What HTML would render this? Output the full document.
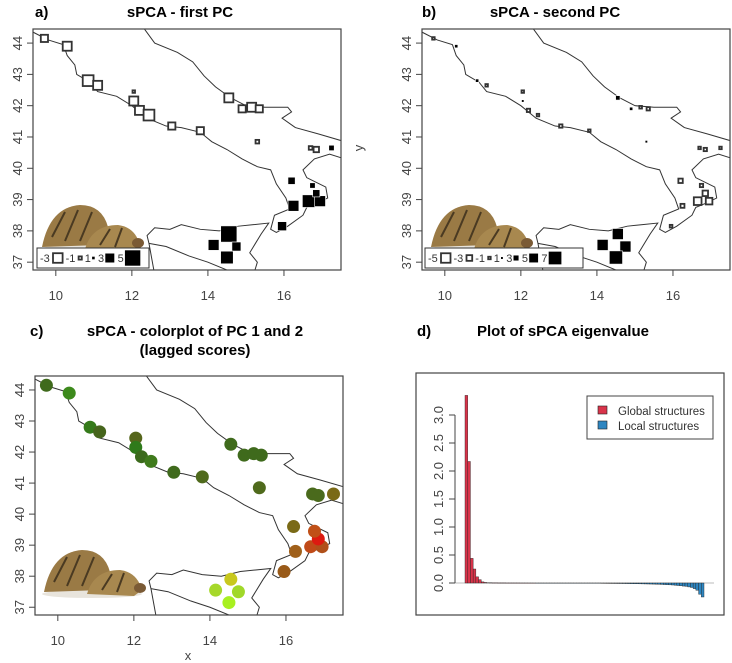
<!DOCTYPE html>
<html><head><meta charset="utf-8"><style>
body{margin:0;background:#fff;}
svg{display:block;font-family:"Liberation Sans",Arial,sans-serif;}
.t{font-weight:bold;font-size:15px;}
.tk{font-size:13px;fill:#444;}
</style></head><body>
<svg id="fig" width="732" height="663" viewBox="0 0 732 663" xmlns="http://www.w3.org/2000/svg">
<defs>
<clipPath id="ca"><rect x="33" y="29" width="308" height="241"/></clipPath>
<clipPath id="cb"><rect x="422" y="29" width="308" height="241"/></clipPath>
<clipPath id="cc"><rect x="35" y="376" width="308" height="239"/></clipPath>
</defs>
</svg>
<script>
// sample locations
const lon=[9.7,10.3,10.85,11.1,12.05,12.05,12.2,12.45,13.05,13.8,14.55,14.9,15.15,15.35,15.3,16.7,16.85,17.25,16.2,16.25,15.95,16.65,16.95,16.85,16.75,14.55,14.15,14.75,14.5];
const lat=[44.15,43.9,42.8,42.65,42.45,42.15,41.85,41.7,41.35,41.2,42.25,41.9,41.95,41.9,40.85,40.65,40.6,40.65,39.6,38.8,38.15,38.95,38.95,39.2,39.45,37.9,37.55,37.5,37.15];
const pc1=[-2,-2.5,-3,-2.5,-0.5,-2.5,-2.5,-3,-2,-2,-2.5,-2,-2.5,-2,-1,-1,-1.5,1.5,2,3,2.5,3.5,3,2,1.5,4.5,3,2.5,3.5];
const pc2=[-0.8,1.5,1.5,-0.8,-0.5,1,-1.5,-0.5,-1.5,-1,2,1.5,-1.2,-1.5,0.5,-0.8,-1.5,-0.6,-2,-1.8,-1.2,-3.5,-3,-2.5,-1.5,5,5,5,6];
const lagCol=['#3f6a1c','#3d8a1c','#357a1a','#46651c','#56661c','#2f7a1a','#3b6a1c','#3f7a1c','#3f6a1c','#4f6a1c','#3f6a1c','#3f6a1c','#3f6a1c','#3f6a1c','#4f6a1c','#4a6a1c','#4a6a1c','#7a6a16','#7a6a16','#a0601a','#995a18','#c04a18','#b0501a','#dd1a10','#c05018','#c8c81e','#a6d82a','#a0d82a','#a8f020'];
const legA=[-3,-1,1,3,5];
const legB=[-5,-3,-1,1,3,5,7];
// eigenvalues
const eig=[3.35,2.17,0.44,0.25,0.11,0.06,0.02,0.01,0.005,0.004,0.003,0.003,0.002,0.002,0.002,0.001,0.001,0.001,0.001,0.001,0.0005,0.0005,0.0005,0.0003,0.0002,0.0001,-0.0001,-0.0002,-0.0003,-0.0005,-0.0006,-0.0008,-0.001,-0.001,-0.0012,-0.0014,-0.0016,-0.0018,-0.002,-0.0022,-0.0024,-0.0026,-0.0028,-0.003,-0.0033,-0.0036,-0.004,-0.0043,-0.0046,-0.005,-0.0055,-0.006,-0.0065,-0.007,-0.0075,-0.008,-0.0085,-0.009,-0.0095,-0.01,-0.011,-0.012,-0.013,-0.014,-0.015,-0.016,-0.017,-0.018,-0.019,-0.02,-0.022,-0.024,-0.026,-0.028,-0.03,-0.033,-0.036,-0.04,-0.045,-0.05,-0.055,-0.06,-0.07,-0.08,-0.1,-0.13,-0.2,-0.25];
const yTicksD=[0,0.5,1,1.5,2,2.5,3];
const xTicks=[10,12,14,16];
const yTicks=[37,38,39,40,41,42,43,44];

const coastW=[[9.4,44.35],[9.8,44.1],[10.2,43.95],[10.3,43.6],[10.5,43.3],[10.55,43.0],[10.9,42.75],[11.1,42.45],[11.6,42.3],[12.0,42.0],[12.4,41.6],[12.9,41.35],[13.3,41.3],[13.8,41.15],[14.1,40.85],[14.5,40.6],[14.9,40.3],[15.3,40.05],[15.65,39.95],[15.8,39.5],[16.05,39.05],[16.15,38.7],[15.75,38.5],[15.65,38.05],[15.8,37.95],[16.1,38.15],[16.5,38.5],[16.6,38.75],[16.9,38.9],[17.15,39.05],[17.1,39.4],[16.6,39.7],[16.5,39.95],[16.8,40.3],[17.2,40.45],[17.6,40.3]];
const coastE=[[12.3,44.5],[12.6,44.0],[13.2,43.7],[13.6,43.4],[13.9,42.95],[14.2,42.6],[14.6,42.25],[15.0,42.0],[15.5,41.95],[16.1,41.95],[16.2,41.8],[15.95,41.6],[16.3,41.3],[16.9,41.1],[17.6,40.85]];
const coastS=[[12.6,36.6],[12.45,37.6],[12.4,37.85],[12.6,38.1],[13.0,38.05],[13.3,38.2],[13.8,38.05],[14.3,38.0],[14.8,38.15],[15.2,38.2],[15.6,38.25],[15.4,37.9],[15.2,37.5],[15.1,37.3],[15.3,37.0],[15.2,36.6]];
const coastS2=[[12.45,37.6],[12.9,37.5],[13.5,37.2],[14.0,37.0],[14.6,36.7]];

const NS='http://www.w3.org/2000/svg';
const svg=document.getElementById('fig');
function mk(tag,attrs,parent){const e=document.createElementNS(NS,tag);for(const k in attrs)e.setAttribute(k,attrs[k]);(parent||svg).appendChild(e);return e;}
function txt(s,x,y,cls,extra,parent){const e=mk('text',Object.assign({x:x,y:y,class:cls},extra||{}),parent);e.textContent=s;return e;}

function panel(P){
  const sx=v=>P.x0+(v-9.4)/(17.5-9.4)*P.w;
  const sy=v=>P.y0+(44.45-v)/(44.45-36.75)*P.h;
  const g=mk('g',{});
  
  
  const cg=mk('g',{'clip-path':'url(#'+P.clip+')'},g);
  [coastW,coastE,coastS,coastS2].forEach(c=>{
    const p=mk('polyline',{points:c.map(q=>sx(q[0])+','+sy(q[1])).join(' '),fill:'none',stroke:'#333','stroke-width':1},cg);
    
    
  });
  // tortoise photo
  const tx=P.x0+7,ty=P.y0+P.h-73;
  const tg=mk('g',{},cg);
  
  
  mk('ellipse',{cx:tx+50,cy:ty+52,rx:50,ry:4,fill:'#e8e4dc'},tg);
  mk('path',{d:`M${tx+2},${ty+50} Q${tx+10},${ty+10} ${tx+40},${ty+8} Q${tx+62},${ty+8} ${tx+68},${ty+30} L${tx+60},${ty+48} Z`,fill:'#9a7a45'},tg);
  mk('path',{d:`M${tx+45},${ty+52} Q${tx+52},${ty+28} ${tx+78},${ty+28} Q${tx+95},${ty+30} ${tx+100},${ty+48} L${tx+92},${ty+54} Z`,fill:'#a8884f'},tg);
  mk('path',{d:`M${tx+12},${ty+40} L${tx+25},${ty+15} M${tx+25},${ty+44} L${tx+38},${ty+13} M${tx+40},${ty+44} L${tx+52},${ty+15} M${tx+60},${ty+48} L${tx+70},${ty+32} M${tx+75},${ty+50} L${tx+82},${ty+31}`,stroke:'#4a3a22','stroke-width':2},tg);
  mk('ellipse',{cx:tx+98,cy:ty+46,rx:6,ry:5,fill:'#7a5a35'},tg);
  mk('rect',{x:P.x0,y:P.y0,width:P.w,height:P.h,fill:'none',stroke:'#444','stroke-width':1.2},g);
  P.marks(sx,sy,cg);
  xTicks.forEach(t=>{mk('line',{x1:sx(t),x2:sx(t),y1:P.y0+P.h,y2:P.y0+P.h+6,stroke:'#444'},g);txt(t,sx(t),P.y0+P.h+30,'tk',{'text-anchor':'middle'},g);});
  yTicks.forEach(t=>{mk('line',{x1:P.x0-6,x2:P.x0,y1:sy(t),y2:sy(t),stroke:'#444'},g);txt(t,P.x0-11,sy(t),'tk',{'text-anchor':'middle',transform:`rotate(-90 ${P.x0-11} ${sy(t)})`},g);});
  return g;
}
function sq(x,y,v,k,parent){
  const s=Math.max(2.5,Math.abs(v)*k);
  const r=mk('rect',{x:x-s/2,y:y-s/2,width:s,height:s,fill:v>0?'#000':'#fff',stroke:v>0?'#fff':'#333','stroke-width':v>0?0.6:1.8},parent);
  
  
  return r;
}
function legendSq(x0,y0,vals,k,parent,w){
  const lg=mk('g',{},parent);
  
  
  mk('rect',{x:x0,y:y0,width:w,height:20,fill:'#fff',stroke:'#333'},lg);
  let x=x0+3;
  vals.forEach(v=>{txt(v,x,y0+14,'',{'font-size':'11px',fill:'#333'},lg);x+=(String(v).length*6)+1;const s=Math.max(2.5,Math.abs(v)*k);sq(x+s/2,y0+10,v,k,lg);x+=s+3;});
}

panel({name:'panel-a-map',x0:33,y0:29,w:308,h:241,clip:'ca',marks:(sx,sy,g)=>{
  lon.forEach((l,i)=>sq(sx(l),sy(lat[i]),pc1[i],3.6,g));
  legendSq(37,248,legA,3.2,g,112);
}});
panel({name:'panel-b-map',x0:422,y0:29,w:308,h:241,clip:'cb',marks:(sx,sy,g)=>{
  lon.forEach((l,i)=>sq(sx(l),sy(lat[i]),pc2[i],2.2,g));
  legendSq(425,248,legB,1.9,g,158);
}});
panel({name:'panel-c-map',x0:35,y0:376,w:308,h:239,clip:'cc',marks:(sx,sy,g)=>{
  lon.forEach((l,i)=>{const c=mk('circle',{cx:sx(l),cy:sy(lat[i]),r:6.5,fill:lagCol[i]},g);
    
    });
}});

txt('a)',35,17,'t');txt('sPCA - first PC',180,17,'t',{'text-anchor':'middle'});
txt('b)',422,17,'t');txt('sPCA - second PC',555,17,'t',{'text-anchor':'middle'});
txt('c)',30,336,'t');txt('sPCA - colorplot of PC 1 and 2',195,336,'t',{'text-anchor':'middle'});
txt('(lagged scores)',195,355,'t',{'text-anchor':'middle'});
txt('d)',417,336,'t');txt('Plot of sPCA eigenvalue',563,336,'t',{'text-anchor':'middle'});
txt('y',363,148,'tk',{'text-anchor':'middle',transform:'rotate(-90 363 148)'});
txt('x',188,660,'tk',{'text-anchor':'middle'});

(function(){
  const g=mk('g',{});
  
  
  mk('rect',{x:416,y:373,width:308,height:242,fill:'none',stroke:'#444','stroke-width':1.2},g);
  const y=v=>583-v*56;
  const bx0=465,bw=(704-465)/eig.length;
  mk('line',{x1:455,x2:714,y1:y(0),y2:y(0),stroke:'#bbb'},g);
  eig.forEach((v,i)=>{const b=mk('rect',{x:bx0+i*bw,y:Math.min(y(v),y(0)),width:bw,height:Math.max(0.3,Math.abs(y(v)-y(0))),fill:v>=0?'#d9344a':'#2e86c1',stroke:'#222','stroke-width':0.4},g);
    
    });
  mk('line',{x1:455,x2:455,y1:y(0),y2:y(3),stroke:'#444'},g);
  yTicksD.forEach(t=>{mk('line',{x1:449,x2:455,y1:y(t),y2:y(t),stroke:'#444'},g);txt(t.toFixed(1),443,y(t),'tk',{'text-anchor':'middle',transform:`rotate(-90 443 ${y(t)})`},g);});
  const lg=mk('g',{},g);
  
  
  mk('rect',{x:587,y:396,width:126,height:43,fill:'#fff',stroke:'#444'},lg);
  mk('rect',{x:598,y:406,width:9,height:8,fill:'#d9344a',stroke:'#222','stroke-width':0.6},lg);
  txt('Global structures',618,415,'',{'font-size':'11.5px',fill:'#333'},lg);
  mk('rect',{x:598,y:421,width:9,height:8,fill:'#2e86c1',stroke:'#222','stroke-width':0.6},lg);
  txt('Local structures',618,430,'',{'font-size':'11.5px',fill:'#333'},lg);
})();
</script>
</body></html>
